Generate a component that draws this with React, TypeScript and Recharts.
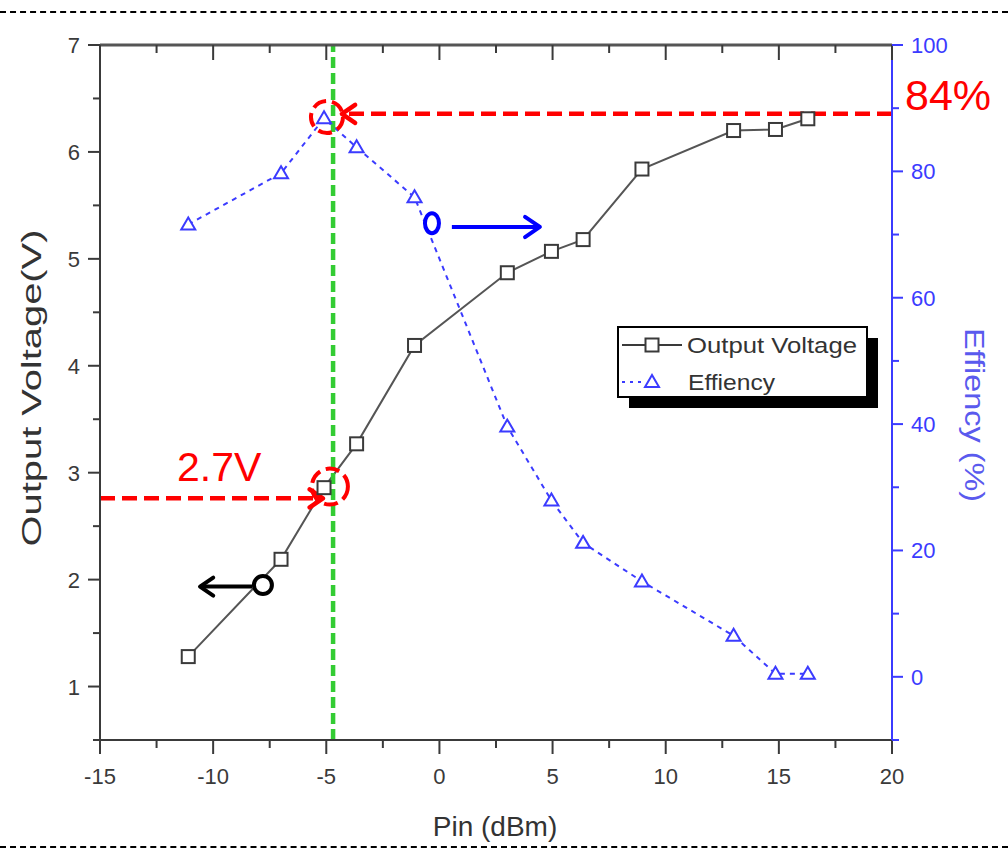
import {
  ComposedChart,
  Line,
  XAxis,
  YAxis,
  Legend,
  ReferenceLine,
  ReferenceDot,
} from 'recharts';

// values
const pin = [-11.1, -7.0, -5.1, -3.66, -1.1, 3.0, 4.95, 6.35, 8.95, 13.0, 14.85, 16.28];
const outputVoltage = [1.28, 2.19, 2.86, 3.27, 4.19, 4.87, 5.07, 5.18, 5.84, 6.2, 6.21, 6.31];
const efficiency = [71.6, 79.7, 88.4, 83.8, 75.9, 39.6, 27.9, 21.2, 15.1, 6.5, 0.5, 0.5];

const xTicks = [-15, -12.5, -10, -7.5, -5, -2.5, 0, 2.5, 5, 7.5, 10, 12.5, 15, 17.5, 20];
const xLabels = [-15, -10, -5, 0, 5, 10, 15, 20];
const vTicks = [0.5, 1, 1.5, 2, 2.5, 3, 3.5, 4, 4.5, 5, 5.5, 6, 6.5, 7];
const vLabels = [1, 2, 3, 4, 5, 6, 7];
const effTicks = [-10, 0, 10, 20, 30, 40, 50, 60, 70, 80, 90, 100];
const effLabels = [0, 20, 40, 60, 80, 100];

const data = pin.map((p, i) => ({
  pin: p,
  voltage: outputVoltage[i],
  eff: efficiency[i],
}));

const FONT = "'Liberation Sans', Arial, sans-serif";
const DARK = '#3a3a3a';
const BLUE = '#3b3bff';
const RED = '#ff0000';

function renderTick(side: string, labels: number[], color: string) {
  return (props: any) => {
    const { x, y, payload } = props;
    const v = payload.value;
    const major = labels.includes(v);
    let mark;
    let label = null;
    if (side === 'left') {
      const len = major ? 12 : 7;
      mark = <line x1={x - len} y1={y} x2={x} y2={y} stroke={color} strokeWidth={2} />;
      if (major)
        label = (
          <text x={x - 20} y={y + 8} textAnchor="end" fontSize={22} fill={color} fontFamily={FONT}>
            {v}
          </text>
        );
    } else if (side === 'right') {
      const len = major ? 11 : 7;
      mark = <line x1={x} y1={y} x2={x + len} y2={y} stroke={color} strokeWidth={2} />;
      if (major)
        label = (
          <text x={x + 19} y={y + 8} textAnchor="start" fontSize={22} fill={color} fontFamily={FONT}>
            {v}
          </text>
        );
    } else if (side === 'bottom') {
      const len = major ? 14 : 8;
      mark = <line x1={x} y1={y} x2={x} y2={y + len} stroke={color} strokeWidth={2} />;
      if (major)
        label = (
          <text x={x} y={y + 44} textAnchor="middle" fontSize={22} fill={color} fontFamily={FONT}>
            {v}
          </text>
        );
    } else {
      const len = major ? 15 : 8;
      mark = <line x1={x} y1={y} x2={x} y2={y + len} stroke={color} strokeWidth={2} />;
    }
    return (
      <g>
        {mark}
        {label}
      </g>
    );
  };
}

// line with an open arrow head at (x2, y2)
function arrowShape(color: string, width: number, dash?: string, head = 14) {
  return (props: any) => {
    const { x1, y1, x2, y2 } = props;
    const ang = Math.atan2(y2 - y1, x2 - x1);
    const a1 = ang + Math.PI - 0.6;
    const a2 = ang + Math.PI + 0.6;
    return (
      <g>
        <line x1={x1} y1={y1} x2={x2} y2={y2} stroke={color} strokeWidth={width} strokeDasharray={dash} />
        <polyline
          points={`${x2 + head * Math.cos(a1)},${y2 + head * Math.sin(a1)} ${x2},${y2} ${x2 + head * Math.cos(a2)},${y2 + head * Math.sin(a2)}`}
          fill="none"
          stroke={color}
          strokeWidth={width}
          strokeLinecap="round"
          strokeLinejoin="round"
        />
      </g>
    );
  };
}

const SquareDot = (props: any) => {
  const { cx, cy } = props;
  if (cx == null || cy == null) return null;
  return <rect x={cx - 6.5} y={cy - 6.5} width={13} height={13} fill="#fff" stroke={DARK} strokeWidth={2} />;
};

const TriangleDot = (props: any) => {
  const { cx, cy } = props;
  if (cx == null || cy == null) return null;
  return (
    <polygon
      points={`${cx},${cy - 7} ${cx - 7},${cy + 5} ${cx + 7},${cy + 5}`}
      fill="#fff"
      stroke={BLUE}
      strokeWidth={2}
    />
  );
};

const renderLegend = () => (
  <svg width={264} height={86} style={{ display: 'block' }}>
    <rect x={12} y={12} width={249} height={70} fill="#000" />
    <rect x={1} y={1} width={249} height={70} fill="#fff" stroke="#000" strokeWidth={2} />
    <line x1={5} y1={19} x2={65} y2={19} stroke={DARK} strokeWidth={2} />
    <rect x={28.5} y={12.5} width={13} height={13} fill="#fff" stroke={DARK} strokeWidth={2} />
    <text x={70} y={27} fontSize={22} fill="#333" fontFamily={FONT} textLength={170} lengthAdjust="spacingAndGlyphs">
      Output Voltage
    </text>
    <line x1={5} y1={56} x2={26} y2={56} stroke={BLUE} strokeWidth={2} strokeDasharray="3 5" />
    <polygon points="35,49 28,61 42,61" fill="#fff" stroke={BLUE} strokeWidth={2} />
    <text x={71} y={64} fontSize={22} fill="#333" fontFamily={FONT} textLength={87} lengthAdjust="spacingAndGlyphs">
      Effiency
    </text>
  </svg>
);

export default function App() {
  return (
    <div style={{ position: 'absolute', left: 0, top: 0, width: 1008, height: 851, background: '#fff' }}>
      <div style={{ position: 'absolute', left: 0, top: 11, width: 1008, borderTop: '2px dashed #000' }} />
      <div style={{ position: 'absolute', left: 0, top: 846, width: 1008, borderTop: '2px dashed #000' }} />
      <ComposedChart
        width={1008}
        height={851}
        data={data}
        margin={{ top: 44, right: 0, bottom: 0, left: 0 }}
        style={{ position: 'absolute', left: 0, top: 0 }}
      >
        <XAxis
          dataKey="pin"
          type="number"
          domain={[-15, 20]}
          ticks={xTicks}
          interval={0}
          height={111}
          tickSize={0}
          tickMargin={0}
          tickLine={false}
          axisLine={{ stroke: DARK, strokeWidth: 2 }}
          tick={renderTick('bottom', xLabels, DARK)}
          label={() => (
            <text x={495} y={836} textAnchor="middle" fontSize={28} fill="#333" fontFamily={FONT}>
              Pin (dBm)
            </text>
          )}
        />
        <XAxis
          xAxisId="top"
          dataKey="pin"
          type="number"
          orientation="top"
          domain={[-15, 20]}
          ticks={xTicks}
          interval={0}
          height={1}
          tickSize={0}
          tickMargin={0}
          tickLine={false}
          axisLine={{ stroke: '#555', strokeWidth: 3 }}
          tick={renderTick('top', xLabels, DARK)}
        />
        <YAxis
          yAxisId="left"
          type="number"
          domain={[0.5, 7]}
          ticks={vTicks}
          interval={0}
          width={100}
          tickSize={0}
          tickMargin={0}
          tickLine={false}
          axisLine={{ stroke: DARK, strokeWidth: 2 }}
          tick={renderTick('left', vLabels, DARK)}
          label={() => (
            <text
              x={32}
              y={388}
              transform="rotate(-90 32 388)"
              textAnchor="middle"
              dominantBaseline="central"
              fontSize={27}
              fill="#333"
              fontFamily={FONT}
              textLength={317}
              lengthAdjust="spacingAndGlyphs"
            >
              Output Voltage(V)
            </text>
          )}
        />
        <YAxis
          yAxisId="right"
          orientation="right"
          type="number"
          domain={[-10, 100]}
          ticks={effTicks}
          interval={0}
          width={116}
          tickSize={0}
          tickMargin={0}
          tickLine={false}
          axisLine={{ stroke: BLUE, strokeWidth: 2 }}
          tick={renderTick('right', effLabels, BLUE)}
          label={() => (
            <text
              x={974}
              y={415}
              transform="rotate(90 974 415)"
              textAnchor="middle"
              dominantBaseline="central"
              fontSize={27}
              fill="#5a5aee"
              fontFamily={FONT}
              textLength={174}
              lengthAdjust="spacingAndGlyphs"
            >
              Effiency (%)
            </text>
          )}
        />
        <Legend
          layout="vertical"
          align="center"
          verticalAlign="middle"
          content={renderLegend}
          wrapperStyle={{ position: 'absolute', left: 617, top: 326, width: 264, height: 86 }}
        />
        <Line
          yAxisId="left"
          dataKey="voltage"
          name="Output Voltage"
          stroke="#555"
          strokeWidth={2}
          dot={<SquareDot />}
          activeDot={false}
          isAnimationActive={false}
        />
        <Line
          yAxisId="right"
          dataKey="eff"
          name="Effiency"
          stroke={BLUE}
          strokeWidth={2}
          strokeDasharray="5 5"
          dot={<TriangleDot />}
          activeDot={false}
          isAnimationActive={false}
        />
        <ReferenceLine yAxisId="left" x={-4.7} stroke="#33cc33" strokeWidth={4.5} strokeDasharray="11 5" />
        <ReferenceLine
          yAxisId="right"
          segment={[{ x: 20, y: 89.1 }, { x: -4.31, y: 89.1 }]}
          shape={arrowShape(RED, 4.5, '15 7', 16)}
        />
        <ReferenceLine
          yAxisId="left"
          segment={[{ x: -15, y: 2.76 }, { x: -5.15, y: 2.76 }]}
          shape={arrowShape(RED, 4.5, '15 7', 16)}
        />
        <ReferenceLine
          yAxisId="right"
          segment={[{ x: 0.55, y: 71.2 }, { x: 4.44, y: 71.2 }]}
          shape={arrowShape('#0000ff', 4, undefined, 18)}
        />
        <ReferenceLine
          yAxisId="left"
          segment={[{ x: -8.28, y: 1.935 }, { x: -10.58, y: 1.935 }]}
          shape={arrowShape('#000', 4, undefined, 16)}
        />
        <ReferenceDot
          yAxisId="right"
          x={-4.97}
          y={88.6}
          r={16}
          shape={(p: any) => (
            <circle cx={p.cx} cy={p.cy} r={16} fill="none" stroke={RED} strokeWidth={4} strokeDasharray="14 6" />
          )}
        />
        <ReferenceDot
          yAxisId="left"
          x={-4.84}
          y={2.87}
          r={18}
          shape={(p: any) => (
            <circle cx={p.cx} cy={p.cy} r={18} fill="none" stroke={RED} strokeWidth={4} strokeDasharray="14 6" />
          )}
        />
        <ReferenceDot
          yAxisId="right"
          x={-0.33}
          y={71.8}
          r={10}
          shape={(p: any) => (
            <ellipse cx={p.cx} cy={p.cy} rx={7} ry={10} fill="none" stroke="#0000ff" strokeWidth={4} />
          )}
        />
        <ReferenceDot
          yAxisId="left"
          x={-7.8}
          y={1.95}
          r={10}
          shape={(p: any) => <circle cx={p.cx} cy={p.cy} r={9} fill="#fff" stroke="#000" strokeWidth={4} />}
        />
      </ComposedChart>
      <div
        style={{
          position: 'absolute',
          left: 177,
          top: 447,
          fontSize: 41,
          lineHeight: '41px',
          color: RED,
          fontFamily: FONT,
        }}
      >
        2.7V
      </div>
      <div
        style={{
          position: 'absolute',
          left: 905,
          top: 74,
          fontSize: 43,
          lineHeight: '43px',
          color: RED,
          fontFamily: FONT,
        }}
      >
        84%
      </div>
    </div>
  );
}
